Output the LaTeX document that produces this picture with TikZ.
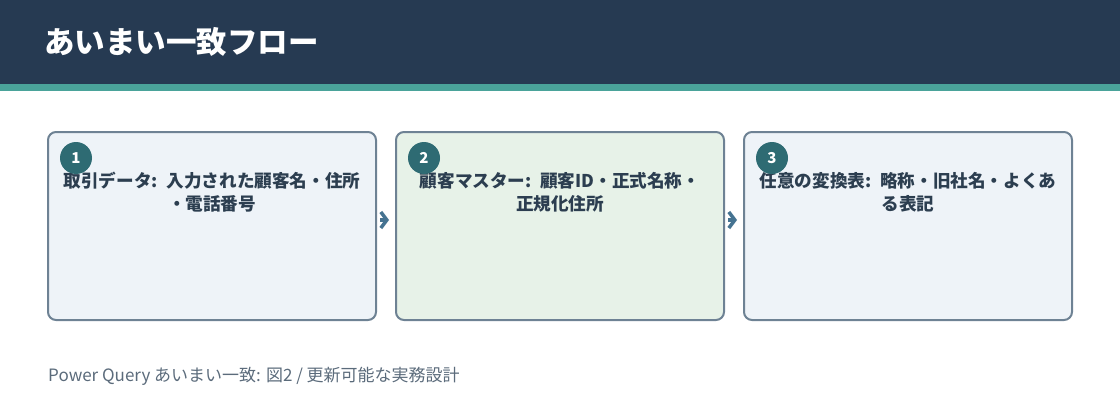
\documentclass[tikz,border=0pt]{standalone}
\usepackage{fontspec}
\setmainfont{Noto Sans CJK JP}
\usetikzlibrary{arrows.meta}
\definecolor{navy}{HTML}{263A52}
\definecolor{band}{HTML}{4AA39A}
\definecolor{rim}{HTML}{6E8294}
\definecolor{paleblue}{HTML}{EEF3F8}
\definecolor{palegreen}{HTML}{E7F2E8}
\definecolor{badge}{HTML}{2E6B73}
\definecolor{ink}{HTML}{2C3E50}
\definecolor{flowc}{HTML}{457391}
\definecolor{note}{HTML}{5B6B7B}
\begin{document}
\begin{tikzpicture}[x=1pt,y=-1pt]
\tikzset{stepbox/.style={draw=rim,line width=2pt,rounded corners=8pt,minimum width=328pt,minimum height=188pt,inner sep=0pt},
num/.style={circle,fill=badge,text=white,minimum size=32pt,inner sep=0pt,font=\fontsize{15}{17}\selectfont\bfseries},
lbl/.style={text=ink,text width=316pt,align=center,inner sep=0pt,anchor=north,font=\fontsize{17.6}{23}\selectfont\bfseries},
flow/.style={draw=flowc,line width=3.5pt,-{Straight Barb[length=6pt,width=16pt,line width=3.5pt]},shorten <=3pt,shorten >=6pt}}
\useasboundingbox (0,0) rectangle (1120,420);
\fill[navy] (0,0) rectangle (1120,84);
\fill[band] (0,84) rectangle (1120,91);
\node[anchor=west,text=white,inner sep=0pt,font=\fontsize{30.5}{34}\selectfont\bfseries] (title) at (44,42) {あいまい一致フロー};
\foreach \i/\x/\c/\t in {1/212/paleblue/{取引データ: 入力された顧客名・住所\\・電話番号},
2/560/palegreen/{顧客マスター: 顧客ID・正式名称・\\正規化住所},
3/908/paleblue/{任意の変換表: 略称・旧社名・よくあ\\る表記}}{
\node[stepbox,fill=\c] (b\i) at (\x,226) {};
\node[lbl] (t\i) at (\x,172) {\t};
\node[num] (n\i) at (\x-136,158) {\i};
}
\draw[flow] ([yshift=6pt]b1.east) -- ([yshift=6pt]b2.west);
\draw[flow] ([yshift=6pt]b2.east) -- ([yshift=6pt]b3.west);
\node[anchor=west,text=note,inner sep=0pt,font=\fontsize{17}{19}\selectfont] (foot) at (48,376) {Power Query あいまい一致: 図2 / 更新可能な実務設計};
\end{tikzpicture}
\end{document}
